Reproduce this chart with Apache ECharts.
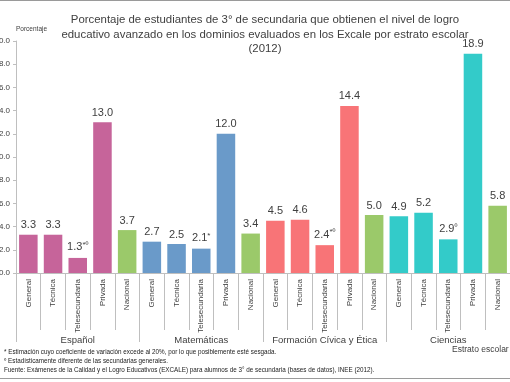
<!DOCTYPE html>
<html><head><meta charset="utf-8">
<script src="https://cdn.jsdelivr.net/npm/echarts@6/dist/echarts.min.js"></script>
<style>html,body{margin:0;padding:0;background:#fff}#c{width:510px;height:382px}</style>
</head><body><div id="c"></div>
<script>
const estratos = ['General','Técnica','Telesecundaria','Privada','Nacional'];
const materias = ['Español','Matemáticas','Formación Cívica y Ética','Ciencias'];
const espanol = [3.3, 3.3, 1.3, 13.0, 3.7];
const matematicas = [2.7, 2.5, 2.1, 12.0, 3.4];
const formacion = [4.5, 4.6, 2.4, 14.4, 5.0];
const ciencias = [4.9, 5.2, 2.9, 18.9, 5.8];
const espanolMarcas = ['', '', '*º', '', ''];
const matematicasMarcas = ['', '', '*', '', ''];
const formacionMarcas = ['', '', '*º', '', ''];
const cienciasMarcas = ['', '', 'º', '', ''];
const yTicks = [0, 2, 4, 6, 8, 10, 12, 14, 16, 18, 20];

const groupColors = ['#C6649A', '#6A9AC9', '#F87477', '#33CBC9'];
const nacionalColor = '#9BC96A';
const FONT = '"Liberation Sans", Arial, sans-serif';

const series = [espanol, matematicas, formacion, ciencias];
const marks = [espanolMarcas, matematicasMarcas, formacionMarcas, cienciasMarcas];
const categories = [], data = [];
series.forEach((vals, g) => {
  vals.forEach((v, i) => {
    categories.push(estratos[i]);
    data.push({
      value: v,
      mark: marks[g][i],
      itemStyle: { color: i === 4 ? nacionalColor : groupColors[g] }
    });
  });
});

const chart = echarts.init(document.getElementById('c'), null, { renderer: 'canvas' });
chart.setOption({
  animation: false,
  backgroundColor: '#fff',
  textStyle: { fontFamily: FONT },
  title: {
    text: 'Porcentaje de estudiantes de 3° de secundaria que obtienen el nivel de logro\neducativo avanzado en los dominios evaluados en los Excale por estrato escolar\n(2012)',
    left: 260, top: 8, textAlign: 'center',
    textStyle: { fontFamily: FONT, fontSize: 11.4, fontWeight: 'normal', color: '#404040', lineHeight: 14.5 }
  },
  grid: { left: 16, top: 41, width: 494, height: 232, containLabel: false, outerBoundsMode: 'none' },
  xAxis: [{
    type: 'category', data: categories, gridIndex: 0, position: 'bottom',
    axisLine: { lineStyle: { color: '#BFBFBF', width: 1 } },
    axisTick: { show: true, length: 57, lineStyle: { color: '#BFBFBF' } },
    axisLabel: { rotate: 90, margin: 6, fontSize: 8, color: '#404040', fontFamily: FONT, interval: 0 }
  }, {
    type: 'category', data: materias, gridIndex: 0, position: 'bottom',
    axisLine: { show: false },
    axisTick: { show: true, length: 69, lineStyle: { color: '#BFBFBF' } },
    axisLabel: { margin: 62, fontSize: 9.5, color: '#404040', fontFamily: FONT, interval: 0 }
  }],
  yAxis: {
    type: 'value', min: yTicks[0], max: yTicks[yTicks.length - 1], interval: 2,
    splitLine: { show: false },
    axisLine: { show: true, lineStyle: { color: '#BFBFBF' } },
    axisTick: { show: true, length: 3, lineStyle: { color: '#BFBFBF' } },
    axisLabel: { fontSize: 8, color: '#404040', margin: 6, formatter: v => v.toFixed(1), fontFamily: FONT }
  },
  series: [{
    type: 'bar', xAxisIndex: 0, data: data, barCategoryGap: '25%',
    label: {
      show: true, position: 'top', distance: 4,
      formatter: p => '{v|' + p.value.toFixed(1) + '}' + (p.data.mark ? '{s|' + p.data.mark + '}' : ''),
      rich: {
        v: { fontSize: 11, color: '#404040', fontFamily: FONT },
        s: { fontSize: 8, color: '#404040', fontFamily: FONT, verticalAlign: 'top', padding: [0, 0, 5, 0] }
      }
    }
  }],
  graphic: [
    { type: 'text', left: 16, top: 26, style: { text: 'Porcentaje', fontSize: 6.5, fill: '#404040', fontFamily: FONT } },
    { type: 'text', left: 452, top: 345, style: { text: 'Estrato escolar', fontSize: 8.5, fill: '#404040', fontFamily: FONT } },
    { type: 'text', left: 4, top: 349, style: { text: '* Estimación cuyo coeficiente de variación excede al 20%, por lo que posiblemente esté sesgada.', fontSize: 6.3, fill: '#222', fontFamily: FONT } },
    { type: 'text', left: 4, top: 358, style: { text: 'º Estadísticamente diferente de las secundarias generales.', fontSize: 6.3, fill: '#222', fontFamily: FONT } },
    { type: 'text', left: 4, top: 367, style: { text: 'Fuente: Exámenes de la Calidad y el Logro Educativos (EXCALE) para alumnos de 3° de secundaria (bases de datos), INEE (2012).', fontSize: 6.3, fill: '#222', fontFamily: FONT } },
    { type: 'rect', left: 0, top: 0, shape: { width: 510, height: 1 }, style: { fill: '#9A9A9A' } },
    { type: 'rect', left: 0, top: 378, shape: { width: 510, height: 1 }, style: { fill: '#9A9A9A' } }
  ]
});
</script></body></html>
